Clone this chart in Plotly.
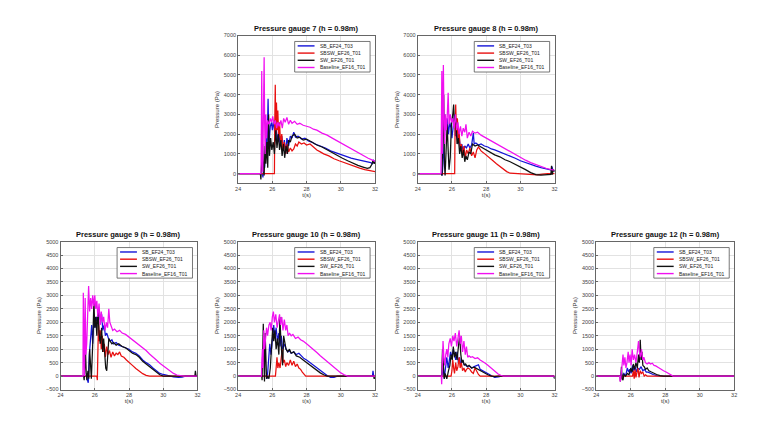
import plotly.graph_objects as go

W, H = 761, 431

series_names = ["SB_EF24_T03", "SBSW_EF26_T01", "SW_EF26_T01", "Baseline_EF16_T01"]
series_colors = ["#1414d8", "#e81010", "#111111", "#f010f0"]
gauges = [7, 8, 9, 10, 11, 12]
x_ticks = [24, 26, 28, 30, 32]
y_ticks_top = [0, 1000, 2000, 3000, 4000, 5000, 6000, 7000]
y_ticks_bottom = [-500, 0, 500, 1000, 1500, 2000, 2500, 3000, 3500, 4000, 4500, 5000]

# ---------------- Gauge 7 ----------------
g7_sb = [(24,0),(25.42,0),(25.45,-200),(25.5,600),(25.55,300),(25.62,1800),(25.68,900),(25.75,3800),(25.8,1500),(25.88,2400),(25.95,2600),(26.0,2200),(26.08,2700),(26.15,1900),(26.22,2300),(26.3,1700),(26.38,2100),(26.45,1500),(26.55,1900),(26.62,1200),(26.7,1700),(26.78,1000),(26.85,1800),(26.95,1400),(27.05,1900),(27.15,1800),(27.25,2100),(27.35,1850),(27.5,1900),(27.7,1750),(27.9,1800),(28.1,1650),(28.3,1600),(28.5,1500),(28.8,1400),(29.1,1300),(29.4,1150),(29.7,1050),(30.0,950),(30.3,850),(30.6,780),(30.9,720),(31.2,660),(31.5,600),(31.75,560),(31.85,500),(31.9,700),(31.95,550),(32,650)]
g7_sbsw = [(24,0),(26.12,0),(26.14,2500),(26.17,4500),(26.2,2000),(26.24,3600),(26.28,2200),(26.32,3200),(26.37,1800),(26.42,2600),(26.48,1500),(26.55,2000),(26.62,1200),(26.7,1600),(26.78,1000),(26.86,1500),(26.95,1100),(27.05,1300),(27.15,1150),(27.25,1250),(27.35,1500),(27.45,1400),(27.55,1600),(27.7,1500),(27.85,1550),(28.0,1450),(28.2,1500),(28.4,1350),(28.6,1200),(28.8,1100),(29.0,1000),(29.3,900),(29.6,750),(29.9,650),(30.2,550),(30.5,450),(30.8,350),(31.1,280),(31.4,200),(31.7,150),(32,100)]
g7_sw = [(24,0),(25.3,0),(25.33,-300),(25.38,400),(25.43,1500),(25.48,200),(25.52,-100),(25.57,1400),(25.62,500),(25.68,1600),(25.73,300),(25.78,3000),(25.83,900),(25.9,1800),(25.97,1200),(26.05,1600),(26.12,1000),(26.2,2200),(26.27,1300),(26.35,2000),(26.42,1200),(26.5,1700),(26.57,900),(26.65,1500),(26.72,800),(26.8,1400),(26.88,1000),(26.95,1700),(27.05,1600),(27.15,1900),(27.3,2000),(27.45,1800),(27.6,1850),(27.8,1700),(28.0,1750),(28.3,1600),(28.6,1450),(28.9,1350),(29.2,1200),(29.5,1050),(29.8,900),(30.1,780),(30.4,650),(30.7,520),(31.0,420),(31.3,330),(31.55,260),(31.7,300),(31.8,450),(31.88,650),(31.95,500),(32,600)]
g7_base = [(24,0),(25.34,0),(25.36,2500),(25.38,5200),(25.41,800),(25.44,100),(25.47,2500),(25.52,5900),(25.55,2500),(25.58,1000),(25.62,3000),(25.66,1800),(25.72,2700),(25.8,2500),(25.88,2800),(25.95,2600),(26.02,2900),(26.1,2500),(26.18,2700),(26.25,2300),(26.32,2600),(26.4,2400),(26.5,2700),(26.58,2300),(26.66,2800),(26.75,2600),(26.85,2850),(26.95,2500),(27.05,2700),(27.15,2550),(27.3,2650),(27.45,2500),(27.6,2550),(27.8,2450),(28.0,2400),(28.2,2350),(28.4,2250),(28.6,2200),(28.9,2050),(29.2,1950),(29.5,1800),(29.8,1650),(30.1,1500),(30.4,1350),(30.7,1200),(31.0,1050),(31.3,900),(31.6,780),(31.85,680),(32,620)]

# ---------------- Gauge 8 ----------------
g8_sb = [(24,0),(25.4,0),(25.43,-100),(25.48,500),(25.55,1500),(25.6,3000),(25.65,2200),(25.72,2800),(25.8,2000),(25.87,2600),(25.95,2300),(26.0,1800),(26.08,2500),(26.15,3000),(26.2,1900),(26.28,2200),(26.35,1500),(26.42,1900),(26.5,1200),(26.58,1500),(26.65,1100),(26.75,1400),(26.85,1300),(26.95,1500),(27.05,1300),(27.15,1450),(27.25,2050),(27.3,1500),(27.4,1550),(27.55,1450),(27.7,1500),(27.9,1400),(28.1,1350),(28.3,1250),(28.5,1200),(28.8,1100),(29.1,1000),(29.4,900),(29.7,780),(30.0,650),(30.3,550),(30.6,450),(30.9,380),(31.2,300),(31.5,240),(31.8,180),(31.85,350),(31.9,150),(32,150)]
g8_sbsw = [(24,0),(26.16,0),(26.18,2000),(26.22,3500),(26.27,2000),(26.32,2800),(26.37,1600),(26.42,2200),(26.48,1200),(26.55,1500),(26.62,900),(26.7,1400),(26.78,800),(26.86,1200),(26.95,1000),(27.05,1300),(27.15,900),(27.25,1100),(27.35,800),(27.45,1200),(27.55,1350),(27.7,1150),(27.85,1050),(28.0,950),(28.2,800),(28.4,650),(28.6,500),(28.8,350),(29.0,200),(29.2,100),(29.4,20),(29.7,0),(30.0,10),(30.3,-20),(30.7,-40),(31.0,-60),(31.3,-30),(31.6,0),(32,0)]
g8_sw = [(24,0),(25.38,0),(25.42,-100),(25.47,1500),(25.52,4000),(25.56,500),(25.6,-100),(25.66,1200),(25.72,2500),(25.78,1200),(25.83,200),(25.9,800),(25.97,2500),(26.05,3000),(26.1,3500),(26.15,2500),(26.22,2800),(26.3,1500),(26.38,1800),(26.45,1000),(26.52,1400),(26.6,800),(26.68,1200),(26.75,600),(26.82,900),(26.9,700),(27.0,1100),(27.1,1000),(27.2,1500),(27.35,1400),(27.5,1450),(27.7,1350),(27.9,1250),(28.1,1150),(28.3,1050),(28.5,950),(28.8,850),(29.1,700),(29.4,600),(29.7,480),(30.0,350),(30.3,200),(30.6,50),(30.9,-50),(31.2,-80),(31.5,-60),(31.78,-40),(31.82,400),(31.86,-50),(31.92,200),(32,100)]
g8_base = [(24,0),(25.36,0),(25.38,2000),(25.41,5200),(25.44,1000),(25.47,2500),(25.5,5500),(25.54,2500),(25.58,1500),(25.62,3000),(25.67,2200),(25.72,2800),(25.78,4100),(25.83,2500),(25.9,3000),(25.97,2600),(26.05,2800),(26.12,2300),(26.2,3000),(26.28,2200),(26.35,2600),(26.42,2000),(26.5,2400),(26.58,1900),(26.66,2300),(26.75,2100),(26.82,2500),(26.9,1800),(27.0,2100),(27.1,1900),(27.2,2150),(27.35,2050),(27.5,2100),(27.7,1950),(27.9,1850),(28.1,1750),(28.3,1650),(28.5,1550),(28.8,1400),(29.1,1250),(29.4,1100),(29.7,950),(30.0,800),(30.3,680),(30.6,560),(30.9,450),(31.2,350),(31.5,270),(31.8,200),(32,180)]

# ---------------- Gauge 9 ----------------
g9_sb = [(24,0),(25.5,0),(25.55,-100),(25.62,-250),(25.68,800),(25.75,1500),(25.82,1900),(25.88,1200),(25.95,2100),(26.02,1800),(26.1,2200),(26.18,2000),(26.25,2500),(26.32,2100),(26.4,2300),(26.47,1700),(26.55,1900),(26.62,1500),(26.7,1600),(26.8,1400),(26.9,1300),(27.0,1350),(27.1,1200),(27.25,1250),(27.4,1150),(27.6,1100),(27.8,1050),(28.0,1000),(28.2,900),(28.4,850),(28.6,750),(28.8,600),(29.0,500),(29.2,420),(29.4,300),(29.6,200),(29.8,100),(30.0,60),(30.3,10),(30.6,-30),(30.9,-50),(31.1,-40),(31.3,0),(32,0)]
g9_sbsw = [(24,0),(26.12,0),(26.15,-150),(26.18,800),(26.22,2100),(26.27,1300),(26.32,1700),(26.38,1000),(26.44,1500),(26.5,900),(26.56,1200),(26.62,700),(26.7,1100),(26.78,800),(26.86,950),(26.95,700),(27.05,900),(27.15,750),(27.25,850),(27.35,800),(27.45,900),(27.55,750),(27.7,700),(27.85,600),(28.0,500),(28.2,400),(28.4,280),(28.6,180),(28.8,90),(29.0,30),(29.2,0),(32,0)]
g9_sw = [(24,0),(25.35,0),(25.38,-150),(25.42,300),(25.46,900),(25.5,100),(25.54,-150),(25.6,200),(25.65,-100),(25.7,1000),(25.75,300),(25.8,-100),(25.88,1200),(25.95,2800),(26.0,1800),(26.06,2200),(26.12,1500),(26.18,2500),(26.25,1600),(26.32,1200),(26.4,1800),(26.46,900),(26.52,1400),(26.58,600),(26.64,300),(26.7,200),(26.76,900),(26.82,1400),(26.9,1300),(27.0,1200),(27.1,1250),(27.25,1150),(27.4,1200),(27.6,1100),(27.8,1050),(28.0,950),(28.2,850),(28.4,800),(28.6,700),(28.8,550),(29.0,450),(29.2,350),(29.4,250),(29.6,150),(29.8,50),(30.0,0),(31.85,0),(31.88,200),(31.92,0),(32,0)]
g9_base = [(24,0),(25.31,0),(25.33,3100),(25.36,1500),(25.4,0),(25.44,2900),(25.48,800),(25.53,1200),(25.58,2400),(25.64,3350),(25.7,2400),(25.76,2900),(25.82,2500),(25.88,3000),(25.94,2600),(26.0,3000),(26.06,2500),(26.12,2800),(26.18,2200),(26.25,2700),(26.32,1900),(26.38,2400),(26.45,2000),(26.52,2200),(26.6,1700),(26.68,2000),(26.75,1800),(26.82,2500),(26.88,2000),(26.95,1900),(27.05,1700),(27.15,1750),(27.3,1650),(27.45,1700),(27.6,1600),(27.8,1550),(28.0,1450),(28.2,1380),(28.4,1280),(28.6,1150),(28.8,1050),(29.0,950),(29.2,820),(29.4,720),(29.6,600),(29.8,480),(30.0,380),(30.2,280),(30.4,180),(30.6,100),(30.8,40),(31.0,10),(31.2,0),(32,0)]

# ---------------- Gauge 10 ----------------
g10_sb = [(24,0),(25.65,0),(25.7,-100),(25.78,500),(25.85,1200),(25.92,800),(26.0,1500),(26.08,1900),(26.15,1400),(26.22,1800),(26.3,1300),(26.38,1600),(26.45,1100),(26.52,1500),(26.6,1000),(26.7,1200),(26.8,1000),(26.9,900),(27.0,950),(27.1,850),(27.25,900),(27.4,800),(27.55,850),(27.7,750),(27.85,650),(28.0,600),(28.2,500),(28.4,400),(28.6,300),(28.8,200),(29.0,100),(29.2,20),(29.4,-50),(29.6,-50),(29.8,0),(31.85,0),(31.88,200),(31.92,0),(32,0)]
g10_sbsw = [(24,0),(26.18,0),(26.22,300),(26.27,700),(26.32,300),(26.38,500),(26.45,300),(26.52,800),(26.58,1000),(26.63,500),(26.7,600),(26.78,350),(26.85,500),(26.95,400),(27.05,600),(27.15,400),(27.25,550),(27.35,350),(27.45,450),(27.55,300),(27.65,250),(27.75,150),(27.85,50),(27.95,0),(32,0)]
g10_sw = [(24,0),(25.38,0),(25.4,-150),(25.44,1000),(25.47,1950),(25.51,500),(25.54,-200),(25.58,1600),(25.62,400),(25.66,-100),(25.72,0),(25.8,-100),(25.88,300),(25.95,1000),(26.02,1800),(26.08,1300),(26.15,1700),(26.22,1000),(26.3,1400),(26.38,800),(26.44,2200),(26.5,1300),(26.55,600),(26.6,400),(26.66,1500),(26.72,1200),(26.8,1000),(26.9,900),(27.0,1000),(27.1,850),(27.25,900),(27.4,750),(27.6,700),(27.8,600),(28.0,500),(28.2,400),(28.4,300),(28.6,200),(28.8,120),(29.0,50),(29.2,0),(31.92,0),(31.95,-100),(32,-50)]
g10_base = [(24,0),(25.36,0),(25.39,600),(25.42,1000),(25.45,300),(25.5,1700),(25.55,1000),(25.6,1300),(25.66,1800),(25.72,1500),(25.8,1900),(25.87,2000),(25.93,1700),(26.0,2200),(26.06,2400),(26.12,2000),(26.2,2300),(26.28,1800),(26.35,2000),(26.42,2300),(26.48,1900),(26.55,2200),(26.62,1700),(26.7,2100),(26.78,1700),(26.85,1900),(26.92,1500),(27.0,1600),(27.1,1500),(27.2,1550),(27.35,1400),(27.5,1450),(27.65,1350),(27.8,1300),(28.0,1200),(28.2,1100),(28.4,1000),(28.6,880),(28.8,760),(29.0,650),(29.2,540),(29.4,420),(29.6,310),(29.8,200),(30.0,120),(30.2,50),(30.4,0),(32,0)]

# ---------------- Gauge 11 ----------------
g11_sb = [(24,0),(25.4,0),(25.45,100),(25.5,300),(25.55,-100),(25.62,200),(25.7,700),(25.78,300),(25.85,600),(25.92,900),(26.0,700),(26.08,1000),(26.15,800),(26.22,600),(26.3,900),(26.38,500),(26.45,700),(26.52,400),(26.6,600),(26.7,450),(26.8,400),(26.9,350),(27.0,380),(27.15,300),(27.3,350),(27.45,400),(27.55,420),(27.65,250),(27.8,200),(27.95,150),(28.1,80),(28.3,20),(28.5,-50),(28.7,-30),(28.9,0),(31.95,0),(32,-50)]
g11_sbsw = [(24,0),(25.95,0),(26.0,200),(26.05,600),(26.1,300),(26.15,100),(26.22,500),(26.28,200),(26.35,350),(26.42,700),(26.48,300),(26.55,500),(26.62,200),(26.7,300),(26.78,150),(26.85,250),(26.95,300),(27.05,250),(27.15,150),(27.25,100),(27.35,300),(27.45,150),(27.55,60),(27.65,0),(32,0)]
g11_sw = [(24,0),(25.4,0),(25.45,1000),(25.5,200),(25.55,-100),(25.6,100),(25.7,-100),(25.8,200),(25.88,400),(25.95,800),(26.02,600),(26.08,1100),(26.15,700),(26.22,900),(26.3,600),(26.38,1100),(26.45,1500),(26.52,800),(26.58,500),(26.65,600),(26.72,400),(26.8,450),(26.9,350),(27.0,400),(27.15,300),(27.3,330),(27.45,280),(27.6,220),(27.75,150),(27.9,100),(28.1,50),(28.3,0),(28.5,-20),(28.7,0),(31.95,0),(32,-100)]
g11_base = [(24,0),(25.38,0),(25.4,-300),(25.44,400),(25.48,1300),(25.53,700),(25.58,400),(25.64,800),(25.7,1000),(25.76,700),(25.82,1200),(25.9,1400),(25.97,1100),(26.05,1500),(26.12,1300),(26.2,1600),(26.28,1100),(26.35,1400),(26.42,1700),(26.48,1200),(26.55,1500),(26.62,900),(26.7,1300),(26.78,800),(26.85,1100),(26.92,700),(27.0,750),(27.1,700),(27.2,720),(27.35,650),(27.5,680),(27.65,600),(27.8,550),(27.95,480),(28.1,400),(28.25,320),(28.4,250),(28.55,150),(28.7,80),(28.85,30),(29.0,0),(32,0)]

# ---------------- Gauge 12 ----------------
g12_sb = [(24,0),(25.5,0),(25.6,100),(25.7,0),(25.8,300),(25.88,150),(25.95,250),(26.02,100),(26.1,400),(26.18,200),(26.25,350),(26.32,150),(26.4,300),(26.5,250),(26.6,350),(26.7,200),(26.8,250),(26.9,150),(27.0,150),(27.15,100),(27.3,60),(27.5,20),(27.7,0),(32,0)]
g12_sbsw = [(24,0),(26.1,0),(26.15,200),(26.2,-100),(26.25,250),(26.3,-50),(26.35,100),(26.42,300),(26.48,-50),(26.55,200),(26.62,100),(26.7,150),(26.78,0),(26.85,50),(26.95,0),(32,0)]
g12_sw = [(24,0),(25.38,0),(25.4,-200),(25.43,300),(25.46,350),(25.5,-100),(25.55,-150),(25.6,50),(25.7,0),(25.8,100),(25.9,50),(26.0,300),(26.08,150),(26.15,450),(26.22,250),(26.3,500),(26.38,300),(26.45,800),(26.5,500),(26.55,1350),(26.6,600),(26.65,900),(26.7,400),(26.78,350),(26.86,250),(26.95,300),(27.05,200),(27.2,150),(27.35,100),(27.5,60),(27.7,20),(27.9,0),(32,0)]
g12_base = [(24,0),(25.36,0),(25.38,-200),(25.42,-100),(25.48,300),(25.55,800),(25.6,400),(25.66,700),(25.72,300),(25.78,500),(25.85,900),(25.9,500),(25.96,800),(26.02,400),(26.08,1000),(26.15,600),(26.22,800),(26.3,500),(26.38,900),(26.45,1300),(26.5,900),(26.56,700),(26.62,1000),(26.7,600),(26.76,700),(26.85,500),(26.95,450),(27.05,500),(27.15,450),(27.25,480),(27.35,400),(27.45,380),(27.6,320),(27.75,250),(27.9,200),(28.05,150),(28.2,100),(28.35,50),(28.45,0),(32,0)]

gauge_data = {
    7: [g7_sb, g7_sbsw, g7_sw, g7_base],
    8: [g8_sb, g8_sbsw, g8_sw, g8_base],
    9: [g9_sb, g9_sbsw, g9_sw, g9_base],
    10: [g10_sb, g10_sbsw, g10_sw, g10_base],
    11: [g11_sb, g11_sbsw, g11_sw, g11_base],
    12: [g12_sb, g12_sbsw, g12_sw, g12_base],
}

# layout geometry (pixels)
cols_px = [(58, 196), (237, 375), (418, 556), (598, 737)]
top_px = (33, 183)
bot_px = (242, 392)
placement = {7: (1, top_px), 8: (2, top_px), 9: (0, bot_px), 10: (1, bot_px), 11: (2, bot_px), 12: (3, bot_px)}

FONT = "Liberation Sans, Arial, sans-serif"

def px_x(x):
    return x / W

def px_y(y):
    return 1 - y / H

fig = go.Figure()
layout = dict(
    width=W, height=H, autosize=False,
    margin=dict(l=0, r=0, t=0, b=0),
    paper_bgcolor="white", plot_bgcolor="white",
    showlegend=False, hovermode=False,
    font=dict(family=FONT, size=6, color="#333"),
)
shapes = []
annotations = []

for i, g in enumerate(gauges):
    n = i + 1
    xa = "x" if n == 1 else f"x{n}"
    ya = "y" if n == 1 else f"y{n}"
    col, (ytop, ybot) = placement[g]
    x0, x1 = cols_px[col]
    for s, data in enumerate(gauge_data[g]):
        ts = [p[0] for p in data]
        ps = [p[1] for p in data]
        fig.add_trace(go.Scatter(x=ts, y=ps, mode="lines", name=series_names[s],
                                 line=dict(color=series_colors[s], width=1.25),
                                 xaxis=xa, yaxis=ya, hoverinfo="skip"))
    is_top = g in (7, 8)
    axis_common = dict(showline=True, mirror=True, linecolor="#666", linewidth=1,
                       ticks="inside", ticklen=2, tickcolor="#666",
                       showgrid=True, gridcolor="#e2e2e2", gridwidth=1, zeroline=False,
                       tickfont=dict(size=5.5, color="#444", family=FONT))
    layout["xaxis" if n == 1 else f"xaxis{n}"] = dict(
        axis_common, domain=[px_x(x0), px_x(x1)], range=[24, 32],
        tickvals=x_ticks, anchor=ya,
        title=dict(text="t(s)", font=dict(size=6, color="#333"), standoff=1))
    layout["yaxis" if n == 1 else f"yaxis{n}"] = dict(
        axis_common, domain=[px_y(ybot), px_y(ytop)],
        range=[-500, 7000] if is_top else [-500, 5000],
        tickvals=y_ticks_top if is_top else y_ticks_bottom, anchor=xa,
        title=dict(text="Pressure (Pa)", font=dict(size=6, color="#333"), standoff=3))
    # title
    annotations.append(dict(text=f"<b>Pressure gauge {g} (h = 0.98m)</b>", x=px_x((x0 + x1) / 2),
                            y=px_y(ytop - 1), xref="paper", yref="paper", xanchor="center",
                            yanchor="bottom", showarrow=False,
                            font=dict(size=7.5, color="#111", family=FONT)))
    # legend box
    bx1 = x1 - 5
    bx0 = bx1 - 76
    by0 = ytop + 6
    by1 = by0 + 31
    shapes.append(dict(type="rect", xref="paper", yref="paper",
                       x0=px_x(bx0), x1=px_x(bx1), y0=px_y(by1), y1=px_y(by0),
                       line=dict(color="#555", width=0.8), fillcolor="white", layer="above"))
    for s in range(4):
        yc = by0 + 4.5 + 7.3 * s
        shapes.append(dict(type="line", xref="paper", yref="paper",
                           x0=px_x(bx0 + 3), x1=px_x(bx0 + 20), y0=px_y(yc), y1=px_y(yc),
                           line=dict(color=series_colors[s], width=1.4), layer="above"))
        annotations.append(dict(text=series_names[s], x=px_x(bx0 + 23), y=px_y(yc),
                                xref="paper", yref="paper", xanchor="left", yanchor="middle",
                                showarrow=False, font=dict(size=5, color="#222", family=FONT)))

layout["shapes"] = shapes
layout["annotations"] = annotations
fig.update_layout(**layout)
fig.write_html("out.html", config={"displayModeBar": False, "staticPlot": True},
               post_script="document.body.style.margin='0';")
